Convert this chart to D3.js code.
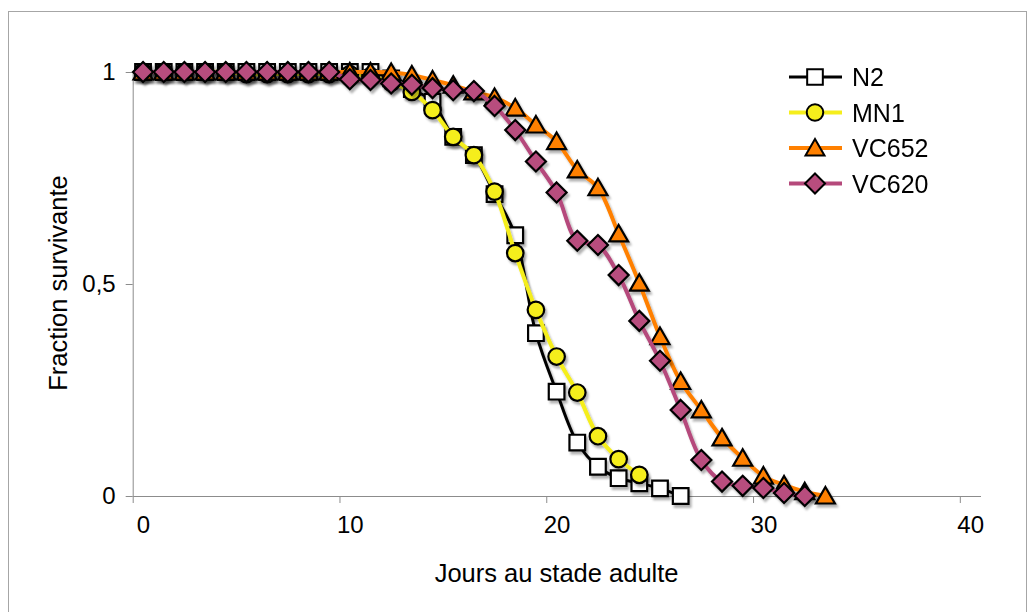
<!DOCTYPE html>
<html>
<head>
<meta charset="utf-8">
<script src="https://cdn.jsdelivr.net/npm/d3@7"></script>
<style>
  body { margin: 0; background: #fff; }
  text { font-family: "Liberation Sans", Arial, sans-serif; fill: #000; }
</style>
</head>
<body>
<svg id="chart" width="1031" height="612"></svg>
<script>
// survival fractions, one value per day (day 0 ... n)
var n2 = [1, 1, 1, 1, 1, 1, 1, 1, 1, 1, 1, 1, 0.985, 0.96, 0.93, 0.847, 0.804, 0.712, 0.615, 0.384, 0.246, 0.126, 0.069, 0.042, 0.03, 0.018, 0];
var mn1 = [1, 1, 1, 1, 1, 0.995, 0.995, 0.995, 0.995, 0.995, 0.995, 0.99, 0.975, 0.953, 0.91, 0.847, 0.804, 0.718, 0.573, 0.439, 0.329, 0.244, 0.141, 0.087, 0.05];
var vc652 = [1, 1, 1, 1, 1, 1, 1, 1, 1, 1, 1, 1, 0.999, 0.993, 0.981, 0.969, 0.953, 0.94, 0.915, 0.875, 0.836, 0.769, 0.727, 0.618, 0.502, 0.376, 0.27, 0.203, 0.137, 0.089, 0.047, 0.026, 0.01, 0];
var vc620 = [1, 1, 1, 1, 1, 1, 1, 1, 1, 1, 0.983, 0.981, 0.973, 0.97, 0.962, 0.957, 0.955, 0.92, 0.863, 0.789, 0.716, 0.602, 0.592, 0.521, 0.413, 0.319, 0.203, 0.085, 0.034, 0.024, 0.019, 0.007, 0];

var seriesNames = ["N2", "MN1", "VC652", "VC620"];
var xTicks = [0, 10, 20, 30, 40];
var yTicks = [0, 0.5, 1];

var series = [
  { name: seriesNames[0], values: n2, line: "#000000", fill: "#ffffff", shape: "square", width: 3 },
  { name: seriesNames[1], values: mn1, line: "#f5ee1c", fill: "#f5ee1c", shape: "circle", width: 4 },
  { name: seriesNames[2], values: vc652, line: "#ff8000", fill: "#ff8000", shape: "triangle", width: 4 },
  { name: seriesNames[3], values: vc620, line: "#b5497b", fill: "#b84d7e", shape: "diamond", width: 4 }
];

var svg = d3.select("#chart");

// drop shadow used by lines and markers
var defs = svg.append("defs");
var shadow = defs.append("filter").attr("id", "shadow")
    .attr("x", "-20%").attr("y", "-20%").attr("width", "140%").attr("height", "140%");
shadow.append("feDropShadow")
    .attr("dx", 2).attr("dy", 3).attr("stdDeviation", 1.3)
    .attr("flood-color", "#000").attr("flood-opacity", 0.3);

// outer frame
svg.append("rect")
    .attr("x", 8.5).attr("y", 11.5)
    .attr("width", 1018).attr("height", 640)
    .attr("fill", "none").attr("stroke", "#a6a6a6").attr("stroke-width", 1);

// category style axis: days centred in slots, ticks on slot borders
var x = d3.scaleLinear().domain([-0.5, 40.5]).range([132.7, 980.5]);
var y = d3.scaleLinear().domain([0, 1]).range([496, 72]);

var axisColor = "#8c8c8c";

// x axis line + ticks on borders
var gx = svg.append("g").attr("transform", "translate(0,496)");
gx.call(d3.axisBottom(x).tickValues(xTicks.map(function(d) { return d - 0.5; }))
    .tickSize(7).tickSizeOuter(0).tickFormat(""));
gx.select(".domain").attr("stroke", axisColor);
gx.selectAll(".tick line").attr("stroke", axisColor);

// x labels at category centres
var gxl = svg.append("g").attr("transform", "translate(0,496)");
gxl.call(d3.axisBottom(x).tickValues(xTicks).tickSize(0).tickPadding(20).tickFormat(d3.format("d")));
gxl.select(".domain").remove();
gxl.selectAll("text").attr("font-size", 24).attr("font-family", "Liberation Sans, Arial, sans-serif");

// y axis
var gy = svg.append("g").attr("transform", "translate(" + x(-0.5) + ",0)");
gy.call(d3.axisLeft(y).tickValues(yTicks).tickSize(7).tickSizeOuter(0).tickPadding(10)
    .tickFormat(function(d) { return d === 0.5 ? "0,5" : d3.format("d")(d); }));
gy.select(".domain").attr("stroke", axisColor);
gy.selectAll(".tick line").attr("stroke", axisColor);
gy.selectAll("text").attr("font-size", 24).attr("font-family", "Liberation Sans, Arial, sans-serif");

// axis titles
svg.append("text")
    .attr("x", x(20)).attr("y", 582)
    .attr("text-anchor", "middle").attr("font-size", 25.5)
    .text("Jours au stade adulte");

svg.append("text")
    .attr("transform", "translate(67,283) rotate(-90)")
    .attr("text-anchor", "middle").attr("font-size", 25.5)
    .text("Fraction survivante");

// markers
var symbols = {
  square: d3.symbol().type(d3.symbolSquare).size(245),
  circle: d3.symbol().type(d3.symbolCircle).size(215)
};

function markerPath(shape) {
  if (shape === "triangle") {
    // flat triangle, a bit wider than d3's default
    return "M0,-9L9.5,7.5L-9.5,7.5Z";
  }
  if (shape === "diamond") {
    return "M0,-10L10,0L0,10L-10,0Z";
  }
  return symbols[shape]();
}

var line = d3.line()
    .x(function(d, i) { return x(i); })
    .y(function(d) { return y(d); })
    .curve(d3.curveCatmullRom.alpha(0.5));

series.forEach(function(s) {
  var g = svg.append("g").attr("filter", "url(#shadow)");

  g.append("path")
      .attr("d", line(s.values))
      .attr("fill", "none")
      .attr("stroke", s.line)
      .attr("stroke-width", s.width)
      .attr("stroke-linejoin", "round");

  g.selectAll("path.m")
      .data(s.values)
      .enter().append("path")
      .attr("class", "m")
      .attr("d", markerPath(s.shape))
      .attr("transform", function(d, i) { return "translate(" + x(i) + "," + y(d) + ")"; })
      .attr("fill", s.fill)
      .attr("stroke", "#000")
      .attr("stroke-width", 2.2)
      .attr("stroke-linejoin", "miter");
});

// legend
var legend = svg.append("g");
series.forEach(function(s, i) {
  var ly = 77 + i * 35.5;
  legend.append("line")
      .attr("x1", 789).attr("x2", 842)
      .attr("y1", ly).attr("y2", ly)
      .attr("stroke", s.line).attr("stroke-width", s.width);
  legend.append("path")
      .attr("d", markerPath(s.shape))
      .attr("transform", "translate(815," + ly + ")")
      .attr("fill", s.fill).attr("stroke", "#000").attr("stroke-width", 2);
  legend.append("text")
      .attr("x", 852).attr("y", ly + 9)
      .attr("font-size", 25)
      .text(s.name);
});
</script>
</body>
</html>
